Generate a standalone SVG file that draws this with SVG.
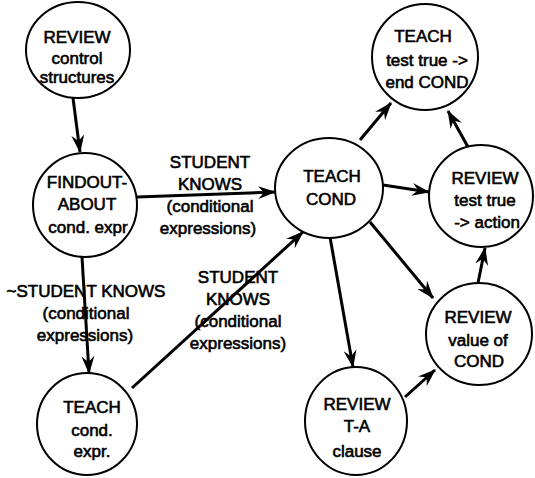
<svg xmlns="http://www.w3.org/2000/svg" width="535" height="478" viewBox="0 0 535 478">
<style>
  .node ellipse { fill: #fff; stroke: #000; stroke-width: 2; }
  text { font-family: "Liberation Sans", Arial, sans-serif; font-size: 17px; fill: #000; stroke: #000; stroke-width: 0.6; text-anchor: middle; }
  .edge { stroke: #000; stroke-width: 3; fill: none; marker-end: url(#arr); }
</style>
<defs>
  <marker id="arr" markerUnits="userSpaceOnUse" viewBox="0 0 18 13" refX="17" refY="6.5" markerWidth="18" markerHeight="13" orient="auto">
    <path d="M0,0 L18,6.5 L0,13 L6,6.5 z" fill="#000"/>
  </marker>
</defs>
<rect width="535" height="478" fill="#fff"/>
<g id="connectors">
  <line class="edge" x1="73" y1="98" x2="80" y2="152"/>
  <line class="edge" x1="137" y1="197" x2="275" y2="192"/>
  <line class="edge" x1="82" y1="257" x2="89" y2="373"/>
  <line class="edge" x1="132" y1="388" x2="303" y2="232"/>
  <line class="edge" x1="360" y1="140" x2="391" y2="103"/>
  <line class="edge" x1="383" y1="185" x2="429" y2="192"/>
  <line class="edge" x1="370" y1="222" x2="433" y2="298"/>
  <line class="edge" x1="330" y1="237" x2="353" y2="367"/>
  <line class="edge" x1="405" y1="397" x2="435" y2="370"/>
  <line class="edge" x1="478" y1="283" x2="485" y2="248"/>
  <line class="edge" x1="468" y1="147" x2="448" y2="111"/>
  <g id="label-knows-1">
    <text x="210" y="168">STUDENT</text>
    <text x="210" y="190">KNOWS</text>
    <text x="210" y="212">(conditional</text>
    <text x="208" y="234">expressions)</text>
  </g>
  <g id="label-not-knows">
    <text x="86" y="297">~STUDENT KNOWS</text>
    <text x="86" y="319">(conditional</text>
    <text x="85" y="341">expressions)</text>
  </g>
  <g id="label-knows-2">
    <text x="238" y="283">STUDENT</text>
    <text x="238" y="305">KNOWS</text>
    <text x="238" y="327">(conditional</text>
    <text x="238" y="349">expressions)</text>
  </g>
</g>
<g id="review-control" class="node">
  <ellipse cx="78" cy="50" rx="52" ry="48"/>
  <text x="77" y="43">REVIEW</text>
  <text x="77" y="64">control</text>
  <text x="77" y="83">structures</text>
</g>
<g id="findout" class="node">
  <ellipse cx="85" cy="205" rx="52" ry="52"/>
  <text x="87" y="188">FINDOUT-</text>
  <text x="87" y="210">ABOUT</text>
  <text x="88" y="233">cond. expr</text>
</g>
<g id="teach-cond-expr" class="node">
  <ellipse cx="87" cy="424" rx="50" ry="51"/>
  <text x="92" y="413">TEACH</text>
  <text x="92" y="436">cond.</text>
  <text x="92" y="457">expr.</text>
</g>
<g id="teach-cond" class="node">
  <ellipse cx="329" cy="188" rx="54" ry="50"/>
  <text x="332" y="182">TEACH</text>
  <text x="331" y="205">COND</text>
</g>
<g id="teach-test-true" class="node">
  <ellipse cx="425" cy="57" rx="53" ry="53"/>
  <text x="423" y="42">TEACH</text>
  <text x="427" y="66">test true -&gt;</text>
  <text x="427" y="88">end COND</text>
</g>
<g id="review-test-true" class="node">
  <ellipse cx="481" cy="196" rx="52" ry="51"/>
  <text x="485" y="184">REVIEW</text>
  <text x="485" y="206">test true</text>
  <text x="487" y="228">-&gt; action</text>
</g>
<g id="review-value" class="node">
  <ellipse cx="479" cy="334" rx="53" ry="51"/>
  <text x="478" y="323">REVIEW</text>
  <text x="478" y="346">value of</text>
  <text x="479" y="367">COND</text>
</g>
<g id="review-ta" class="node">
  <ellipse cx="356" cy="421" rx="51" ry="54"/>
  <text x="357" y="410">REVIEW</text>
  <text x="357" y="432">T-A</text>
  <text x="357" y="457">clause</text>
</g>
</svg>
